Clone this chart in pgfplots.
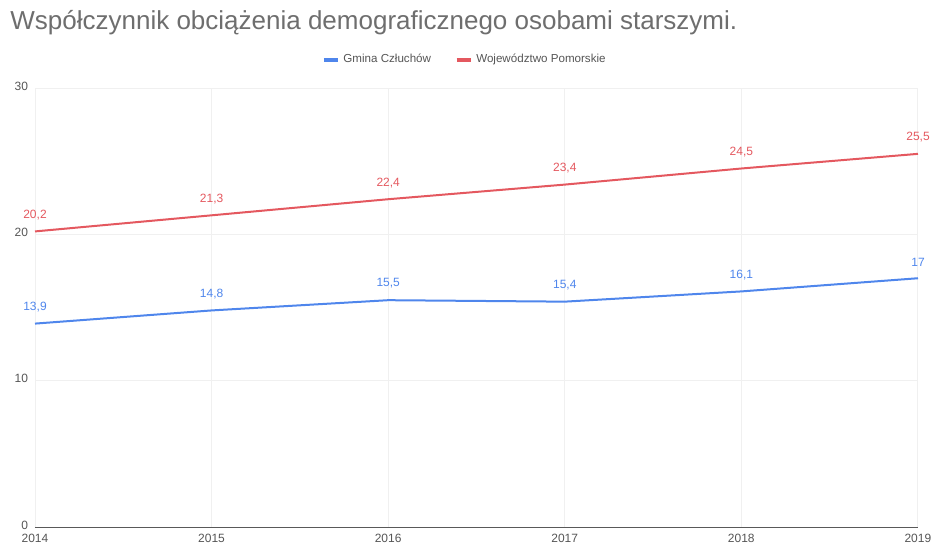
\documentclass[border=0pt]{standalone}
\usepackage{fontspec}
\setmainfont{Liberation Sans}
\usepackage{pgfplots}
\pgfplotsset{compat=1.18}
\definecolor{gblue}{HTML}{4F86EC}
\definecolor{gred}{HTML}{E4585F}
\definecolor{gtext}{HTML}{555555}
\definecolor{gtitle}{HTML}{6E6E6E}
\begin{document}
\begin{tikzpicture}
\useasboundingbox (0,0) rectangle (466pt,274pt);
\node[anchor=west, font=\fontsize{13}{15}\selectfont, text=gtitle, inner sep=0pt] at (5pt,262.5pt)
  {Współczynnik obciążenia demograficznego osobami starszymi.};
\begin{axis}[
    at={(17.5pt,10.5pt)}, anchor=south west,
    scale only axis, width=441.5pt, height=219.5pt,
    xmin=2014, xmax=2019, ymin=0, ymax=30,
    xtick={2014,...,2019}, ytick={0,10,20,30},
    xticklabel style={/pgf/number format/1000 sep={}},
    /pgf/number format/assume math mode=true,
    tick label style={font=\fontsize{6}{7}\selectfont, text=gtext},
    yticklabel style={yshift=1pt},
    major tick length=0pt,
    axis line style={draw=none},
    grid=major, grid style={gray!12, line width=0.4pt},
    legend columns=2,
    legend style={at={(0.488,1.064)}, anchor=center, draw=none, fill=none,
      font=\fontsize{5.8}{7}\selectfont, text=gtext,
      /tikz/every even column/.append style={column sep=10pt}},
    legend image code/.code={\draw[#1, line width=1.6pt] (0pt,0pt) -- (7pt,0pt);},
    nodes near coords,
    every node near coord/.append style={font=\fontsize{6}{7}\selectfont, yshift=2pt,
      /pgf/number format/use comma, /pgf/number format/assume math mode=true},
]
\draw[gray!70!black, line width=0.4pt] (axis cs:2014,0) -- (axis cs:2019,0);
\addplot[gblue, line width=1pt, no marks, every node near coord/.append style={text=gblue}] coordinates {
  (2014,13.9) (2015,14.8) (2016,15.5) (2017,15.4) (2018,16.1) (2019,17)
};
\addlegendentry{Gmina Człuchów}
\addplot[gred, line width=1pt, no marks, every node near coord/.append style={text=gred}] coordinates {
  (2014,20.2) (2015,21.3) (2016,22.4) (2017,23.4) (2018,24.5) (2019,25.5)
};
\addlegendentry{Województwo Pomorskie}
\end{axis}
\end{tikzpicture}
\end{document}
